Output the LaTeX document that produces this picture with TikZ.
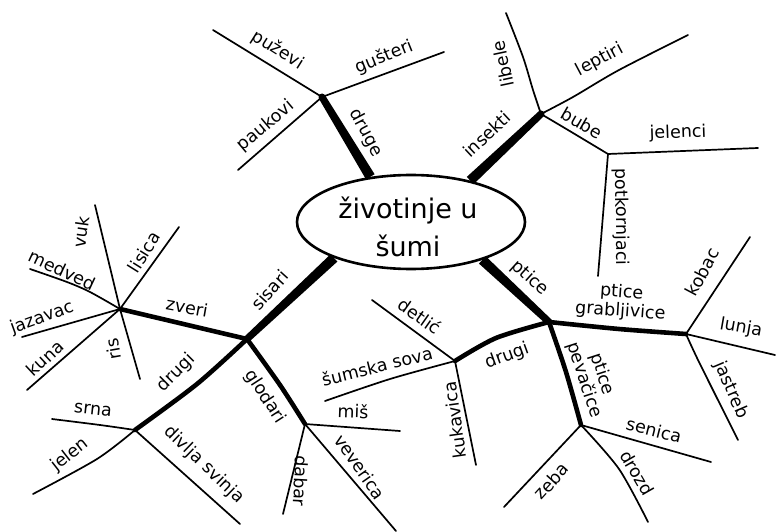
\documentclass[tikz,border=0pt]{standalone}
\usepackage{fontspec}
\setmainfont{DejaVu Sans}
\usetikzlibrary{shapes.geometric,calc}
\begin{document}
\begin{tikzpicture}[x=1pt,y=-1pt,
  thinline/.style={line width=1.7pt, line cap=round, line join=round},
  midline/.style={line width=4.6pt, line cap=round, line join=round},
  lab/.style={font=\fontsize{17.5}{19}\selectfont, inner sep=0pt, align=center},
  title/.style={font=\fontsize{27}{38}\selectfont, inner sep=0pt, align=center}]
\useasboundingbox (0,0) rectangle (776,532);

% central ellipse
\node[draw, ellipse, line width=2.6pt, minimum width=228pt, minimum height=94pt, inner sep=0pt] (hub) at (411,222) {};
\node[title] (ttl) at (408,227) {životinje u\\šumi};

% hubs
\coordinate (D) at (322,97);
\coordinate (I) at (541,114);
\coordinate (B) at (608,154);
\coordinate (P) at (549,322);
\coordinate (G) at (686,334);
\coordinate (DB) at (455,361);
\coordinate (V) at (581,425);
\coordinate (S) at (247,339);
\coordinate (Z) at (120,309);
\coordinate (M) at (135,430);
\coordinate (R) at (305,424);

% ends
\coordinate (puz) at (213,30);
\coordinate (gus) at (444,52);
\coordinate (pau) at (238,170);
\coordinate (lib) at (506,13);
\coordinate (lep) at (688,35);
\coordinate (jel) at (758,148);
\coordinate (pot) at (598,276);
\coordinate (kob) at (750,237);
\coordinate (lun) at (775,355);
\coordinate (jas) at (738,440);
\coordinate (det) at (372,300);
\coordinate (sov) at (325,401);
\coordinate (kuk) at (476,465);
\coordinate (sen) at (711,462);
\coordinate (zeb) at (504,507);
\coordinate (dro) at (648,522);
\coordinate (vuk) at (95,205);
\coordinate (lis) at (179,227);
\coordinate (med) at (30,269);
\coordinate (jaz) at (22,337);
\coordinate (kun) at (27,390);
\coordinate (ris) at (140,379);
\coordinate (srn) at (52,419);
\coordinate (jln) at (33,494);
\coordinate (div) at (240,524);
\coordinate (mis) at (400,431);
\coordinate (dab) at (283,514);
\coordinate (vev) at (396,531);

% ellipse ends of the main branches
\coordinate (eD) at (hub.132);
\coordinate (eI) at (hub.35);
\coordinate (eP) at (hub.-28);
\coordinate (eS) at (hub.205);

% main (tapered) branches
\foreach \a/\b in {eD/D, eI/I, eP/P, eS/S}{
  \fill ($(\a)!5pt!90:(\b)$) -- ($(\a)!5pt!-90:(\b)$) --
        ($(\b)!3.5pt!90:(\a)$) -- ($(\b)!3.5pt!-90:(\a)$) -- cycle;
  \fill (\b) circle[radius=3.5pt];
}

% medium branches
\draw[midline] plot[smooth] coordinates {(S) (213,331) (Z)};
\draw[midline] plot[smooth] coordinates {(S) (197,384) (M)};
\draw[midline] plot[smooth] coordinates {(S) (280,385) (R)};
\draw[midline] plot[smooth] coordinates {(P) (619,329) (G)};
\draw[midline] plot[smooth] coordinates {(P) (496,338) (DB)};
\draw[midline] plot[smooth] coordinates {(P) (566,372) (V)};

% thin branches
\draw[thinline] (D) -- (puz);
\draw[thinline] (D) -- (gus);
\draw[thinline] (D) -- (pau);
\draw[thinline] plot[smooth] coordinates {(I) (533,90) (523,57) (lib)};
\draw[thinline] plot[smooth] coordinates {(I) (573,97) (619,70) (lep)};
\draw[thinline] plot[smooth] coordinates {(I) (568,130) (B)};
\draw[thinline] (B) -- (jel);
\draw[thinline] (B) -- (pot);
\draw[thinline] (G) -- (kob);
\draw[thinline] (G) -- (lun);
\draw[thinline] plot[smooth] coordinates {(G) (699,362) (jas)};
\draw[thinline] (DB) -- (det);
\draw[thinline] plot[smooth] coordinates {(DB) (390,379) (sov)};
\draw[thinline] (DB) -- (kuk);
\draw[thinline] (V) -- (sen);
\draw[thinline] (V) -- (zeb);
\draw[thinline] plot[smooth] coordinates {(V) (619,469) (dro)};
\draw[thinline] (Z) -- (vuk);
\draw[thinline] (Z) -- (lis);
\draw[thinline] plot[smooth] coordinates {(Z) (90,292) (67,282) (med)};
\draw[thinline] (Z) -- (jaz);
\draw[thinline] (Z) -- (kun);
\draw[thinline] (Z) -- (ris);
\draw[thinline] plot[smooth] coordinates {(M) (100,425) (srn)};
\draw[thinline] plot[smooth] coordinates {(M) (97,459) (jln)};
\draw[thinline] (M) -- (div);
\draw[thinline] (R) -- (mis);
\draw[thinline] (R) -- (dab);
\draw[thinline] (R) -- (vev);

% labels
\node[lab, rotate=-32] (tpuz) at (278,50) {puževi};
\node[lab, rotate=22] (tgus) at (384,57) {gušteri};
\node[lab, rotate=40] (tpau) at (266,126) {paukovi};
\node[lab, rotate=-62] (tdru) at (366,133) {druge};
\node[lab, rotate=43] (tins) at (487,134) {insekti};
\node[lab, rotate=102] (tlib) at (503,64) {libele};
\node[lab, rotate=28] (tlep) at (600,60) {leptiri};
\node[lab, rotate=-30] (tbub) at (582,123) {bube};
\node[lab, rotate=2] (tjel) at (678,133) {jelenci};
\node[lab, rotate=-89] (tpot) at (621,217) {potkornjaci};
\node[lab, rotate=-42] (tpti) at (530,278) {ptice};
\node[lab, rotate=-4] (tgra) at (621,302) {ptice\\grabljivice};
\node[lab, rotate=62] (tkob) at (702,272) {kobac};
\node[lab, rotate=-10] (tlun) at (741,328) {lunja};
\node[lab, rotate=-67] (tjas) at (731,390) {jastreb};
\node[lab, rotate=20] (tdrb) at (507,356) {drugi};
\node[lab, rotate=-35] (tdet) at (420,316) {detlić};
\node[lab, rotate=14] (tsov) at (377,366) {šumska sova};
\node[lab, rotate=98] (tkuk) at (455,420) {kukavica};
\node[lab, rotate=-72] (tpev) at (593,377) {ptice\\pevačice};
\node[lab, rotate=-14] (tsen) at (654,430) {senica};
\node[lab, rotate=48] (tzeb) at (551,481) {zeba};
\node[lab, rotate=-60] (tdro) at (637,473) {drozd};
\node[lab, rotate=48] (tsis) at (270,290) {sisari};
\node[lab, rotate=-10] (tzve) at (187,307) {zveri};
\node[lab, rotate=82] (tvuk) at (81,232) {vuk};
\node[lab, rotate=58] (tlis) at (144,252) {lisica};
\node[lab, rotate=-25] (tmed) at (62,270) {medved};
\node[lab, rotate=20] (tjaz) at (42,318) {jazavac};
\node[lab, rotate=43] (tkun) at (45,358) {kuna};
\node[lab, rotate=100] (tris) at (113,349) {ris};
\node[lab, rotate=45] (tdrm) at (176,373) {drugi};
\node[lab, rotate=-6] (tsrn) at (93,410) {srna};
\node[lab, rotate=38] (tjln) at (70,455) {jelen};
\node[lab, rotate=-44] (tdiv) at (204,465) {divlja svinja};
\node[lab, rotate=-57] (tglo) at (265,397) {glodari};
\node[lab, rotate=-2] (tmis) at (353,411) {miš};
\node[lab, rotate=-93] (tdab) at (301,481) {dabar};
\node[lab, rotate=-55] (tvev) at (360,467) {veverica};
\end{tikzpicture}
\end{document}
